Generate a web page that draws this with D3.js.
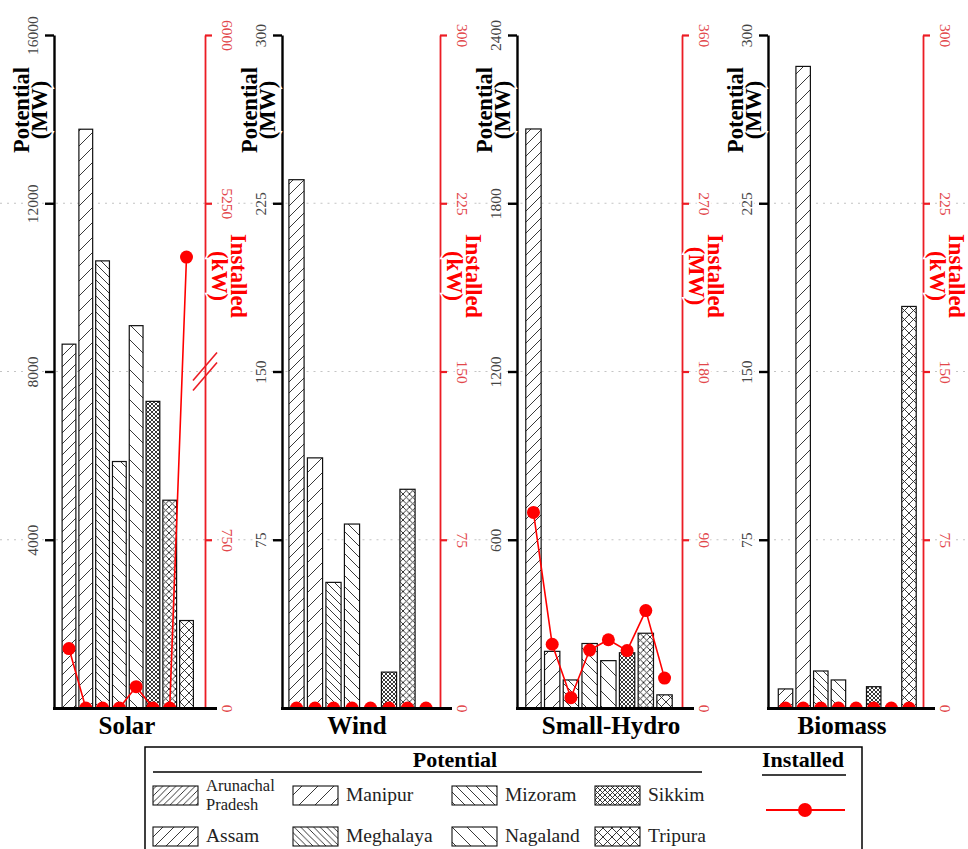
<!DOCTYPE html>
<html>
<head>
<meta charset="utf-8">
<script src="https://cdn.jsdelivr.net/npm/d3@7"></script>
<style>
  html, body { margin: 0; padding: 0; background: #fff; }
  svg { display: block; font-family: "Liberation Serif", "Times New Roman", serif; }
</style>
</head>
<body>
<svg id="chart" width="968" height="849"></svg>
<script>
// ---- data -------------------------------------------------------------
const states = ["Arunachal Pradesh", "Assam", "Manipur", "Meghalaya",
                "Mizoram", "Nagaland", "Sikkim", "Tripura"];
const sources = ["Solar", "Wind", "Small-Hydro", "Biomass"];
const potentialUnits = ["MW", "MW", "MW", "MW"];
const installedUnits = ["kW", "kW", "MW", "kW"];

const solarPotential   = [8650, 13760, 10630, 5860, 9090, 7290, 4940, 2080];
const solarInstalled   = [265, 0, 0, 0, 95, 0, 0, 5010];
const windPotential    = [235.5, 111.5, 56, 82, 0, 16, 97.5, 0];
const windInstalled    = [0, 0, 0, 0, 0, 0, 0, 0];
const hydroPotential   = [2064.9, 202, 100, 230, 168.9, 197, 266.6, 46.9];
const hydroInstalled   = [104.6, 34.1, 5.5, 31, 36.5, 30.7, 52.1, 16];
const biomassPotential = [8.5, 286, 16.5, 12.5, 0, 9.5, 0, 179];
const biomassInstalled = [0, 0, 0, 0, 0, 0, 0, 0];

const solarPotentialTicks   = [4000, 8000, 12000, 16000];
const solarInstalledTicks   = [0, 750, 5250, 6000];
const solarInstalledBreak   = [1500, 4500];   // gap hidden on the installed axis
const windPotentialTicks    = [75, 150, 225, 300];
const windInstalledTicks    = [0, 75, 150, 225, 300];
const hydroPotentialTicks   = [600, 1200, 1800, 2400];
const hydroInstalledTicks   = [0, 90, 180, 270, 360];
const biomassPotentialTicks = [75, 150, 225, 300];
const biomassInstalledTicks = [0, 75, 150, 225, 300];

// ---- layout -----------------------------------------------------------
const W = 968, H = 849;
const TOP = 35, BOTTOM = 708;
const frames = [
  { axisX: 54,  redX: 205, band: [60.6, 194.9],   titleX: 127 },
  { axisX: 282, redX: 440, band: [287.25, 435.25], titleX: 357 },
  { axisX: 517, redX: 682, band: [524.1, 673.9],   titleX: 611 },
  { axisX: 768, redX: 923, band: [776.7, 917.8],   titleX: 842 }
];
const RED = "#ff0000";
const RED_AXIS = "#ec1c24";
const RED_TEXT = "#e2474b";

const panels = [
  { potential: solarPotential, installed: solarInstalled,
    pTicks: solarPotentialTicks, iTicks: solarInstalledTicks, brk: solarInstalledBreak },
  { potential: windPotential, installed: windInstalled,
    pTicks: windPotentialTicks, iTicks: windInstalledTicks },
  { potential: hydroPotential, installed: hydroInstalled,
    pTicks: hydroPotentialTicks, iTicks: hydroInstalledTicks },
  { potential: biomassPotential, installed: biomassInstalled,
    pTicks: biomassPotentialTicks, iTicks: biomassInstalledTicks }
].map((p, i) => Object.assign(p, {
  name: sources[i], pUnit: potentialUnits[i], iUnit: installedUnits[i], frame: frames[i]
}));

const svg = d3.select("#chart");
const defs = svg.append("defs");

// ---- hatch fills ------------------------------------------------------
function addHatch(id, kind, s, sw) {
  const p = defs.append("pattern").attr("id", id)
    .attr("patternUnits", "userSpaceOnUse")
    .attr("width", s).attr("height", s);
  p.append("rect").attr("width", s).attr("height", s).attr("fill", "#fff");
  let d = "";
  if (kind === "fwd" || kind === "cross")
    d += `M${-s/2},${s/2}L${s/2},${-s/2}M0,${s}L${s},0M${s/2},${1.5*s}L${1.5*s},${s/2}`;
  if (kind === "back" || kind === "cross")
    d += `M${-s/2},${s/2}L${s/2},${1.5*s}M0,0L${s},${s}M${s/2},${-s/2}L${1.5*s},${s/2}`;
  p.append("path").attr("d", d).attr("fill", "none")
    .attr("stroke", "#222").attr("stroke-width", sw);
}

// fills used by the bars, one per state
const barHatch = [["fwd", 11], ["fwd", 15], ["back", 8], ["back", 11], ["back", 15],
                  ["cross", 4], ["cross", 6.5], ["cross", 9]];
// fills used by the legend swatches
const legendHatch = [["fwd", 6.5], ["fwd", 11], ["fwd", 16], ["back", 6.5],
                     ["back", 10], ["back", 15], ["cross", 5], ["cross", 9]];
barHatch.forEach(([k, s], i) => addHatch("bar" + i, k, s, 0.9));
legendHatch.forEach(([k, s], i) => addHatch("leg" + i, k, s, 0.9));

defs.append("clipPath").attr("id", "plotClip")
  .append("rect").attr("x", 0).attr("y", 0).attr("width", W).attr("height", BOTTOM);

// ---- scales -----------------------------------------------------------
panels.forEach(p => {
  p.x = d3.scaleBand().domain(states).range(p.frame.band)
    .paddingInner(0.18).paddingOuter(0.09);
  p.yP = d3.scaleLinear().domain([0, d3.max(p.pTicks)]).range([BOTTOM, TOP]);
  if (p.brk) {
    const mid = (BOTTOM + TOP) / 2;
    p.yI = d3.scaleLinear()
      .domain([0, p.brk[0], p.brk[1], d3.max(p.iTicks)])
      .range([BOTTOM, mid, mid, TOP]);
  } else {
    p.yI = d3.scaleLinear().domain([0, d3.max(p.iTicks)]).range([BOTTOM, TOP]);
  }
});

// ---- dotted grid ------------------------------------------------------
const gridG = svg.append("g");
panels.forEach((p, i) => {
  const x0 = i === 0 ? 0 : (frames[i - 1].redX + p.frame.axisX) / 2;
  const x1 = i === panels.length - 1 ? W : (p.frame.redX + frames[i + 1].axisX) / 2;
  gridG.selectAll(null).data(p.pTicks.slice(0, -1)).join("line")
    .attr("x1", x0).attr("x2", x1)
    .attr("y1", d => p.yP(d)).attr("y2", d => p.yP(d))
    .attr("stroke", "#c4c4c4").attr("stroke-width", 1.2)
    .attr("stroke-dasharray", "2,5");
});

// ---- panels -----------------------------------------------------------
panels.forEach(p => {
  const g = svg.append("g");
  const f = p.frame;

  // potential bars
  g.selectAll("rect.bar").data(states.map((s, i) => ({ s, i, v: p.potential[i] })))
    .join("rect").attr("class", "bar")
    .filter(d => d.v > 0)
    .attr("x", d => p.x(d.s)).attr("width", p.x.bandwidth())
    .attr("y", d => p.yP(d.v)).attr("height", d => BOTTOM - p.yP(d.v))
    .attr("fill", d => `url(#bar${d.i})`)
    .attr("stroke", "#111").attr("stroke-width", 1.2);

  // installed line + markers
  const pts = states.map((s, i) => [p.x(s) + p.x.bandwidth() / 2, p.yI(p.installed[i])]);
  const lg = g.append("g").attr("clip-path", "url(#plotClip)");
  lg.append("path").attr("d", d3.line()(pts))
    .attr("fill", "none").attr("stroke", RED).attr("stroke-width", 1.6);
  lg.selectAll("circle").data(pts).join("circle")
    .attr("cx", d => d[0]).attr("cy", d => d[1]).attr("r", 6.5).attr("fill", RED);

  // potential axis (left, black)
  const axL = g.append("g").attr("transform", `translate(${f.axisX},0)`)
    .call(d3.axisLeft(p.yP).tickValues(p.pTicks).tickSize(9).tickSizeOuter(0)
      .tickFormat(d3.format("d")));
  axL.select(".domain").attr("stroke", "#000").attr("stroke-width", 2.4);
  axL.selectAll(".tick line").attr("stroke", "#000").attr("stroke-width", 2.4);
  axL.selectAll(".tick text")
    .attr("x", null).attr("dy", "0.35em")
    .attr("transform", "translate(-21,0) rotate(-90)")
    .attr("text-anchor", "middle")
    .attr("font-family", "Liberation Serif, serif").attr("font-size", 15.5)
    .attr("fill", "#444")
    .attr("stroke", "#fff").attr("stroke-width", 4).attr("paint-order", "stroke");

  // installed axis (right, red)
  const axR = g.append("g").attr("transform", `translate(${f.redX},0)`)
    .call(d3.axisRight(p.yI).tickValues(p.iTicks).tickSize(7).tickSizeOuter(0)
      .tickFormat(d3.format("d")));
  axR.select(".domain").attr("stroke", RED_AXIS).attr("stroke-width", 1.8);
  axR.selectAll(".tick line").attr("stroke", RED_AXIS).attr("stroke-width", 2.2);
  axR.selectAll(".tick text")
    .attr("x", null).attr("dy", "0.35em")
    .attr("transform", "translate(22,0) rotate(90)")
    .attr("text-anchor", "middle")
    .attr("font-family", "Liberation Serif, serif").attr("font-size", 15.5)
    .attr("fill", RED_TEXT)
    .attr("stroke", "#fff").attr("stroke-width", 4).attr("paint-order", "stroke");

  // axis break marks
  if (p.brk) {
    const yb = p.yI(p.brk[0]);
    [-5, 5].forEach(o => {
      g.append("line")
        .attr("x1", f.redX - 12).attr("y1", yb + o + 14)
        .attr("x2", f.redX + 12).attr("y2", yb + o - 14)
        .attr("stroke", RED_AXIS).attr("stroke-width", 1.6);
    });
  }

  // category baseline
  g.append("line").attr("x1", f.axisX - 1).attr("x2", f.redX + 12)
    .attr("y1", BOTTOM + 0.5).attr("y2", BOTTOM + 0.5)
    .attr("stroke", "#000").attr("stroke-width", 3);

  // axis titles
  const titleY = 110;
  [["Potential", -33], [`(${p.pUnit})`, -15]].forEach(([t, dx]) => {
    g.append("text").text(t)
      .attr("transform", `translate(${f.axisX + dx},${titleY}) rotate(-90)`)
      .attr("dy", "0.35em").attr("text-anchor", "middle")
      .attr("font-weight", "bold").attr("font-size", 22.5).attr("fill", "#000")
      .attr("stroke", "#fff").attr("stroke-width", 3).attr("paint-order", "stroke");
  });
  const redTitleY = 276;
  [["Installed", 34], [`(${p.iUnit})`, 15]].forEach(([t, dx]) => {
    g.append("text").text(t)
      .attr("transform", `translate(${f.redX + dx},${redTitleY}) rotate(90)`)
      .attr("dy", "0.35em").attr("text-anchor", "middle")
      .attr("font-weight", "bold").attr("font-size", 22.5).attr("fill", RED)
      .attr("stroke", "#fff").attr("stroke-width", 3).attr("paint-order", "stroke");
  });

  // panel title
  g.append("text").text(p.name)
    .attr("x", f.titleX).attr("y", 734)
    .attr("text-anchor", "middle").attr("font-weight", "bold")
    .attr("font-size", 25).attr("fill", "#000");
});

// ---- legend -----------------------------------------------------------
const leg = svg.append("g");
leg.append("rect").attr("x", 145).attr("y", 747).attr("width", 717).attr("height", 120)
  .attr("fill", "#fff").attr("stroke", "#000").attr("stroke-width", 1.5);

leg.append("text").text("Potential").attr("x", 455).attr("y", 767)
  .attr("text-anchor", "middle").attr("font-weight", "bold").attr("font-size", 22);
leg.append("line").attr("x1", 153).attr("x2", 702).attr("y1", 772).attr("y2", 772)
  .attr("stroke", "#000").attr("stroke-width", 1.5);

leg.append("text").text("Installed").attr("x", 803).attr("y", 767)
  .attr("text-anchor", "middle").attr("font-weight", "bold").attr("font-size", 22);
leg.append("line").attr("x1", 762).attr("x2", 846).attr("y1", 775).attr("y2", 775)
  .attr("stroke", "#000").attr("stroke-width", 1.5);

leg.append("line").attr("x1", 766).attr("x2", 845).attr("y1", 810).attr("y2", 810)
  .attr("stroke", RED).attr("stroke-width", 1.8);
leg.append("circle").attr("cx", 805).attr("cy", 810).attr("r", 7).attr("fill", RED);

const colX = [153, 293, 452, 595];
const rowY = [786, 827];
states.forEach((s, i) => {
  const cx = colX[Math.floor(i / 2)], ry = rowY[i % 2];
  leg.append("rect").attr("x", cx).attr("y", ry).attr("width", 45).attr("height", 19)
    .attr("fill", `url(#leg${i})`).attr("stroke", "#111").attr("stroke-width", 1.1);
  const words = s.split(" ");
  if (words.length > 1) {
    // two-line label, one text per line
    words.forEach((w, k) => leg.append("text").text(w)
      .attr("font-size", 16.5).attr("fill", "#222")
      .attr("x", cx + 53).attr("y", ry + 5 + k * 18.5));
  } else {
    leg.append("text").text(s).attr("font-size", 19.5).attr("fill", "#222")
      .attr("x", cx + 53).attr("y", ry + 14.5);
  }
});
</script>
</body>
</html>
